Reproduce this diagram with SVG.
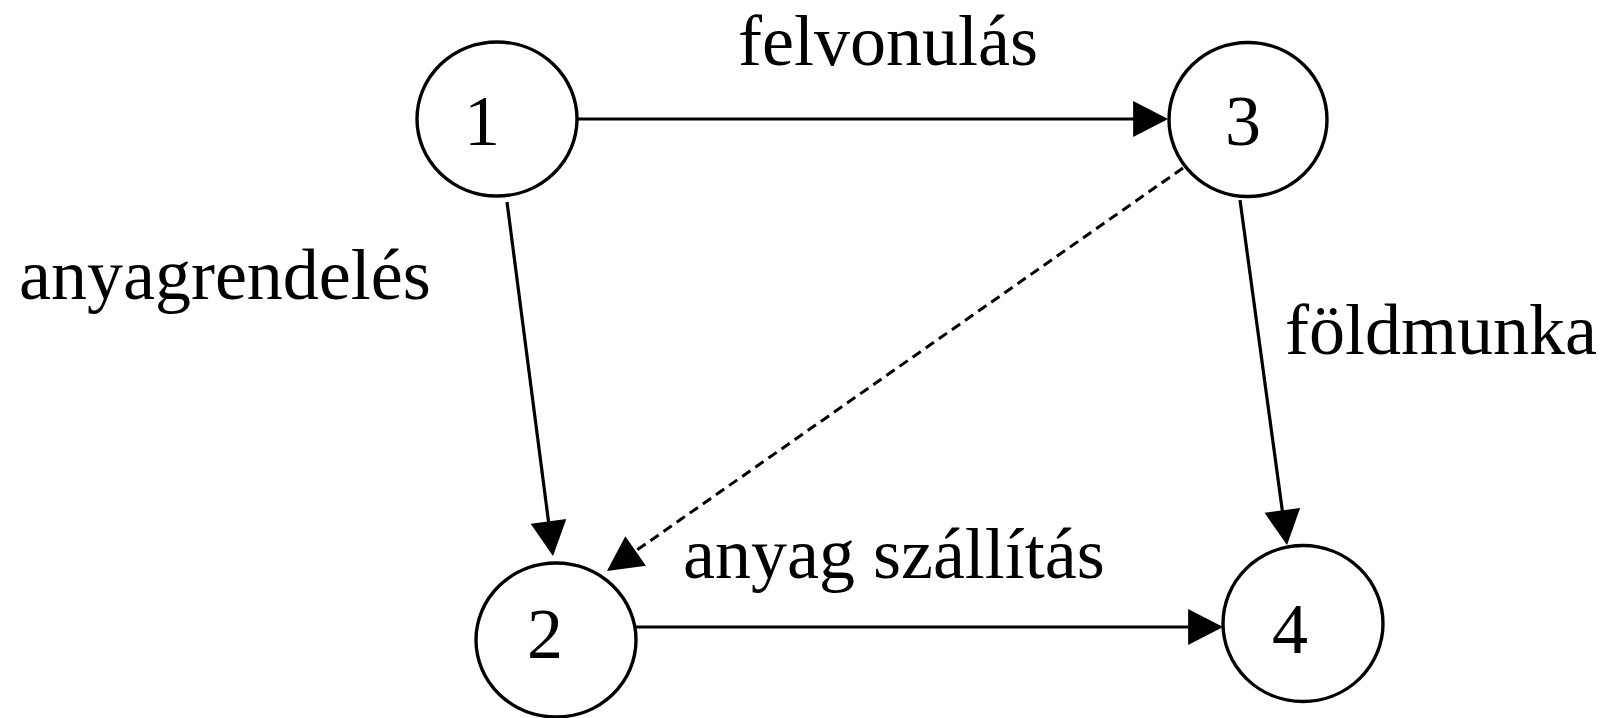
<svg xmlns="http://www.w3.org/2000/svg" width="1607" height="718" viewBox="0 0 1607 718">
<style>
.node{fill:#fff;stroke:#000;stroke-width:3.4}
.num,.lbl{font-family:"Liberation Serif","Times New Roman",serif;font-size:72px;fill:#000}
.num{text-anchor:middle}
.edge{fill:none;stroke:#000;stroke-width:3.2}
.dash{stroke-dasharray:10 6;stroke-width:3}
</style>
<defs>
<marker id="arr" markerUnits="userSpaceOnUse" markerWidth="36" markerHeight="36" viewBox="0 0 34 35" refX="31" refY="17.5" orient="auto">
<path d="M0,0 L34,17.5 L0,35 z" fill="#000"/>
</marker>
</defs>
<rect width="1607" height="718" fill="#fff"/>
<g id="connectors">
<line class="edge" x1="578" y1="119" x2="1165" y2="119" marker-end="url(#arr)"/>
<line class="edge" x1="635" y1="627" x2="1220" y2="627" marker-end="url(#arr)"/>
<line class="edge" x1="507" y1="202" x2="552.6" y2="553" marker-end="url(#arr)"/>
<line class="edge" x1="1240" y1="200" x2="1286.6" y2="542" marker-end="url(#arr)"/>
<line class="edge dash" x1="1183" y1="168" x2="609.5" y2="569.3" marker-end="url(#arr)"/>
</g>
<g id="node1"><ellipse class="node" cx="497" cy="119" rx="80" ry="77"/><text class="num" x="482" y="145">1</text></g>
<g id="node3"><ellipse class="node" cx="1248" cy="119.5" rx="79" ry="77"/><text class="num" x="1243" y="145">3</text></g>
<g id="node2"><ellipse class="node" cx="556" cy="640" rx="80" ry="77"/><text class="num" x="545" y="658">2</text></g>
<g id="node4"><ellipse class="node" cx="1303" cy="623.5" rx="80" ry="78"/><text class="num" x="1290" y="653">4</text></g>
<g id="labels">
<text class="lbl" x="738" y="65">felvonulás</text>
<text class="lbl" x="19" y="299">anyagrendelés</text>
<text class="lbl" x="1285" y="354">földmunka</text>
<text class="lbl" x="683" y="578">anyag szállítás</text>
</g>
</svg>
